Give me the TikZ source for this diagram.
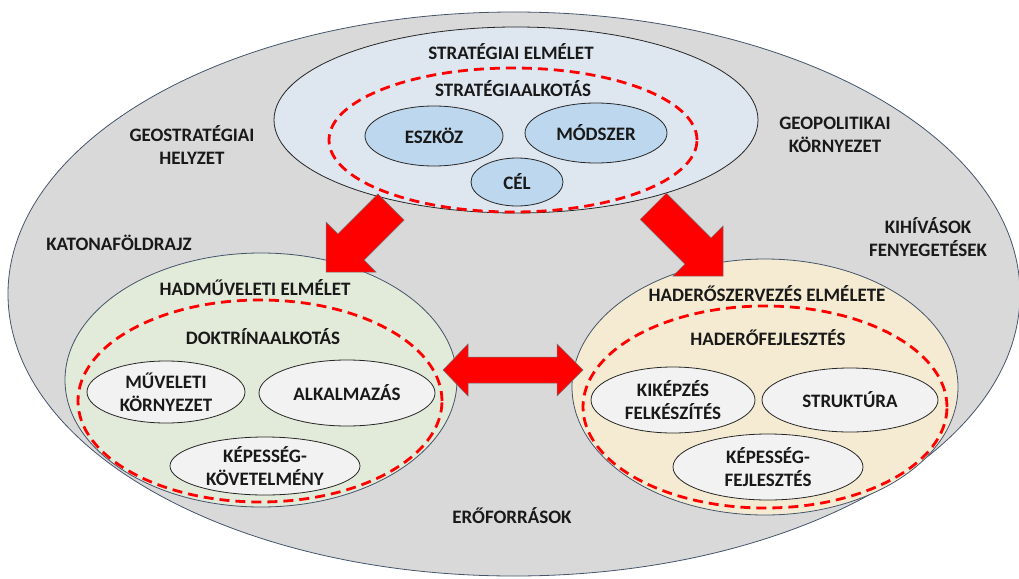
\documentclass[tikz,border=0pt]{standalone}
\usepackage{fontspec}
\setmainfont{Carlito}
\usetikzlibrary{shapes.geometric}
\definecolor{outerfill}{HTML}{D9D9D9}
\definecolor{bordblue}{HTML}{44546A}
\definecolor{topfill}{HTML}{DEE6F0}
\definecolor{bluefill}{HTML}{BDD7EE}
\definecolor{greenfill}{HTML}{E2EAD9}
\definecolor{tanfill}{HTML}{F5EBD2}
\definecolor{whitefill}{HTML}{F2F2F2}
\definecolor{redarrow}{HTML}{FF0000}
\tikzset{
  ell/.style={ellipse, inner sep=0pt, line width=0.8pt},
  item/.style={ell, draw=black!85, font=\bfseries\fontsize{19}{23}\selectfont, align=center, text=black!90},
  reddash/.style={draw=redarrow, line width=2.8pt, dash pattern=on 10pt off 6pt},
  lbl/.style={font=\bfseries\fontsize{19}{23}\selectfont, align=center, inner sep=0pt, text=black!90},
  blockarrow/.style={fill=redarrow, draw=black!55, line width=0.5pt, line join=miter}
}
\begin{document}
\begin{tikzpicture}[x=1pt,y=-1pt]
\useasboundingbox (0,0) rectangle (1019,578);
\clip (0,0) rectangle (1019,578);
% outer ellipse
\node[ell, draw=bordblue, fill=outerfill, minimum width=1012pt, minimum height=564pt] (outer) at (514,294) {};
% top ellipse
\node[ell, draw=black!85, fill=topfill, minimum width=484pt, minimum height=186pt] (top) at (516,120) {};
\node[ell, reddash, minimum width=368pt, minimum height=144pt] (topdash) at (513,140) {};
% left ellipse
\node[ell, draw=bordblue, fill=greenfill, minimum width=392pt, minimum height=254pt] (left) at (261,380) {};
\node[ell, reddash, minimum width=364pt, minimum height=202pt] (leftdash) at (260,401) {};
% right ellipse
\node[ell, draw=bordblue, fill=tanfill, minimum width=386pt, minimum height=256pt] (right) at (765,387) {};
\node[ell, reddash, minimum width=364pt, minimum height=202pt] (rightdash) at (765,407) {};
% top items
\node[item, fill=bluefill, minimum width=138pt, minimum height=60pt] (eszkoz) at (434,136) {ESZKÖZ};
\node[item, fill=bluefill, minimum width=142pt, minimum height=60pt] (modszer) at (596,133) {MÓDSZER};
\node[item, fill=bluefill, minimum width=92pt, minimum height=48pt] (cel) at (517,182) {CÉL};
% left items
\node[item, fill=whitefill, minimum width=158pt, minimum height=62pt] (muv) at (166,392) {MŰVELETI\\KÖRNYEZET};
\node[item, fill=whitefill, minimum width=176pt, minimum height=66pt] (alk) at (347,393) {ALKALMAZÁS};
\node[item, fill=whitefill, minimum width=190pt, minimum height=58pt] (kepk) at (265,466) {KÉPESSÉG-\\KÖVETELMÉNY};
% right items
\node[item, fill=whitefill, minimum width=164pt, minimum height=66pt] (kik) at (673,400) {KIKÉPZÉS\\FELKÉSZÍTÉS};
\node[item, fill=whitefill, minimum width=176pt, minimum height=64pt] (str) at (850,400) {STRUKTÚRA};
\node[item, fill=whitefill, minimum width=190pt, minimum height=66pt] (kepf) at (768,467) {KÉPESSÉG-\\FEJLESZTÉS};
% titles
\node[lbl] (t1) at (511,52) {STRATÉGIAI ELMÉLET};
\node[lbl] (t2) at (513,89) {STRATÉGIAALKOTÁS};
\node[lbl] (t3) at (255,288) {HADMŰVELETI ELMÉLET};
\node[lbl] (t4) at (263,337) {DOKTRÍNAALKOTÁS};
\node[lbl] (t5) at (767,294) {HADERŐSZERVEZÉS ELMÉLETE};
\node[lbl] (t6) at (768,338) {HADERŐFEJLESZTÉS};
% outer labels
\node[lbl] (geo) at (192,145) {GEOSTRATÉGIAI\\HELYZET};
\node[lbl] (kat) at (119,243) {KATONAFÖLDRAJZ};
\node[lbl] (gpol) at (835,135) {GEOPOLITIKAI\\KÖRNYEZET};
\node[lbl] (kih) at (928,237) {KIHÍVÁSOK\\FENYEGETÉSEK};
\node[lbl] (ero) at (512,516) {ERŐFORRÁSOK};
% block arrows
\draw[blockarrow] (326,272) -- (326,222) -- (337.9,233.9) -- (377.9,193.9) -- (404.1,220.1) -- (364.1,260.1) -- (376,272) -- cycle;
\draw[blockarrow] (723,276) -- (723,226) -- (711.1,237.9) -- (666.4,193.2) -- (640.2,219.4) -- (684.9,264.1) -- (673,276) -- cycle;
\draw[blockarrow] (443,370) -- (468,344) -- (468,357) -- (557,357) -- (557,344) -- (583,370) -- (557,396) -- (557,383) -- (468,383) -- (468,396) -- cycle;
\end{tikzpicture}
\end{document}
